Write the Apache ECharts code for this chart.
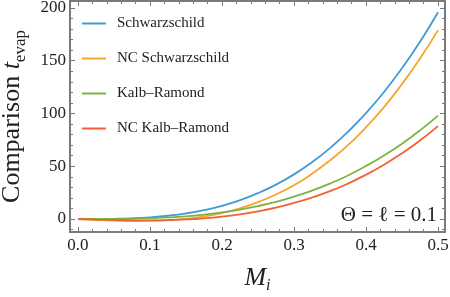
<!DOCTYPE html>
<html>
<head>
<meta charset="utf-8">
<script src="https://cdn.jsdelivr.net/npm/echarts@6/dist/echarts.min.js"></script>
<style>
html,body{margin:0;padding:0;background:#fff;}
#c{width:450px;height:297px;}
</style>
</head>
<body>
<div id="c"></div>
<script>
var massValues = [0, 0.025, 0.05, 0.075, 0.1, 0.125, 0.15, 0.175, 0.2, 0.225, 0.25, 0.275, 0.3, 0.325, 0.35, 0.375, 0.4, 0.425, 0.45, 0.475, 0.5];
var schwarzschild = [0, 0.02, 0.2, 0.66, 1.6, 3.1, 5.3, 8.4, 12.5, 17.9, 24.5, 32.6, 42.3, 53.8, 67.2, 82.7, 100.4, 120.4, 142.9, 168, 196];
var ncSchwarzschild = [0, -0.8, -1.5, -1.9, -1.8, -1.1, 0.2, 2.4, 5.7, 10.2, 16, 23.3, 32, 42.8, 55.6, 70, 87, 106, 128, 152, 179];
var kalbRamond = [0, 0.01, 0.1, 0.33, 0.8, 1.5, 2.6, 4.2, 6.3, 8.9, 12.3, 16.3, 21.2, 26.9, 33.6, 41.3, 50.2, 60.2, 71.4, 84, 98];
var ncKalbRamond = [0, -0.5, -0.9, -1.2, -1.2, -1.0, -0.4, 0.7, 2.3, 4.4, 7.3, 10.8, 15.2, 20.4, 26.4, 33.6, 42, 51.5, 62.3, 74.4, 88];
var seriesNames = ['Schwarzschild', 'NC Schwarzschild', 'Kalb\u2013Ramond', 'NC Kalb\u2013Ramond'];
var seriesColors = ['#3f9bd4', '#f6a52a', '#7cb342', '#ee6236'];
var xMajorTicks = [0, 0.1, 0.2, 0.3, 0.4, 0.5];
var yMajorTicks = [0, 50, 100, 150, 200];
var xRange = [-0.0111, 0.5097];
var yRange = [-12.3, 206.6];
var annotation = '\u0398 = \u2113 = 0.1';

var allData = [schwarzschild, ncSchwarzschild, kalbRamond, ncKalbRamond];
var serif = '"Liberation Serif", "DejaVu Serif", serif';
var frameColor = '#7a7a7a';
var textColor = '#222';

function pairs(ys){ return massValues.map(function(x,i){ return [x, ys[i]]; }); }
function minorOf(major, n, lo, hi){
  var step = (major[1]-major[0])/n, out = [];
  for (var v = major[0] - step*n; v <= major[major.length-1] + step*n + 1e-9; v += step) {
    var r = Math.round(v/step);
    if (r % n !== 0) { var val = +(r*step).toFixed(6); if (val >= lo && val <= hi) out.push(val); }
  }
  return out;
}
var xMinorTicks = minorOf(xMajorTicks, 5, xRange[0], xRange[1]);
var yMinorTicks = minorOf(yMajorTicks, 5, yRange[0], yRange[1]);

function axis(kind, pos, ticks, len, label){
  var range = kind === 'x' ? xRange : yRange;
  var a = {
    type: 'value', gridIndex: 0, position: pos, min: range[0], max: range[1],
    axisLine: {show: false, onZero: false}, splitLine: {show: false},
    axisTick: {show: true, inside: true, length: len, customValues: ticks, lineStyle: {color: frameColor, width: 1}},
    axisLabel: {show: false}
  };
  if (label) {
    a.axisLabel = {show: true, customValues: ticks, fontFamily: serif, fontSize: 17, color: textColor,
      margin: kind === 'x' ? 5 : 4,
      formatter: kind === 'x' ? function(v){ return v.toFixed(1); } : function(v){ return String(v); }};
  }
  return a;
}

var xBottom = axis('x', 'bottom', xMajorTicks, 5, true);
xBottom.name = '{m|M}{s|i}';
xBottom.nameLocation = 'middle';
xBottom.nameGap = 30;
xBottom.nameTextStyle = {rich: {
  m: {fontFamily: serif, fontStyle: 'italic', fontSize: 26, lineHeight: 32, color: textColor},
  s: {fontFamily: serif, fontStyle: 'italic', fontSize: 16, lineHeight: 16, verticalAlign: 'bottom', color: textColor}
}};

var yLeft = axis('y', 'left', yMajorTicks, 5, true);
yLeft.name = '{a|Comparison }{t|t}{s|evap}';
yLeft.nameLocation = 'middle';
yLeft.nameGap = 41;
yLeft.nameRotate = 90;
yLeft.nameTextStyle = {rich: {
  a: {fontFamily: serif, fontSize: 26, lineHeight: 34, color: textColor},
  t: {fontFamily: serif, fontStyle: 'italic', fontSize: 26, lineHeight: 34, color: textColor},
  s: {fontFamily: serif, fontSize: 17, lineHeight: 17, verticalAlign: 'bottom', color: textColor}
}};

var chart = echarts.init(document.getElementById('c'), null, {renderer: 'canvas'});
chart.setOption({
  animation: false,
  color: seriesColors,
  grid: {left: 70, right: 5, top: 1, bottom: 65, containLabel: false, outerBoundsMode: 'none',
         show: true, borderColor: frameColor, borderWidth: 2, backgroundColor: 'transparent'},
  legend: {
    orient: 'vertical', left: 82, top: 16, itemGap: 20, padding: 0,
    icon: 'rect', itemWidth: 24, itemHeight: 2,
    textStyle: {fontFamily: serif, fontSize: 15, color: textColor, padding: [0,0,0,6]},
    data: seriesNames
  },
  xAxis: [
    xBottom,
    axis('x', 'bottom', xMinorTicks, 3, false),
    axis('x', 'top', xMajorTicks, 5, false),
    axis('x', 'top', xMinorTicks, 3, false)
  ],
  yAxis: [
    yLeft,
    axis('y', 'left', yMinorTicks, 3, false),
    axis('y', 'right', yMajorTicks, 5, false),
    axis('y', 'right', yMinorTicks, 3, false)
  ],
  graphic: [
    {type: 'text', silent: true, z: 10, right: 13, top: 205,
     style: {text: annotation, fontFamily: serif, fontSize: 21, fill: textColor}}
  ],
  series: allData.map(function(d, i){
    return {
      name: seriesNames[i], type: 'line', data: pairs(d), smooth: true, symbol: 'none',
      xAxisIndex: 0, yAxisIndex: 0,
      lineStyle: {width: 1.8, color: seriesColors[i]}, itemStyle: {color: seriesColors[i]}
    };
  })
});
</script>
</body>
</html>
